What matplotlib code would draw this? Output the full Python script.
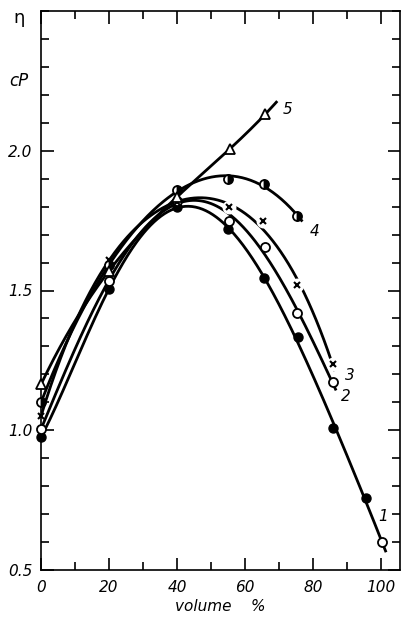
import matplotlib
matplotlib.use('Agg')
import matplotlib.pyplot as plt
import numpy as np
from matplotlib.ticker import MultipleLocator

# measured points (volume %, viscosity cP)
x1 = [0, 20, 40, 55, 65.5, 75.5, 86, 95.6, 100.2]
y1 = [0.975, 1.505, 1.80, 1.72, 1.545, 1.333, 1.007, 0.756, 0.599]
x2 = [0, 20, 40, 55.3, 65.8, 75.3, 85.8]
y2 = [1.004, 1.535, 1.82, 1.75, 1.657, 1.418, 1.171]
x3 = [0, 20, 40, 55.2, 65.3, 75.3, 85.9]
y3 = [1.05, 1.61, 1.815, 1.797, 1.75, 1.518, 1.236]
x4 = [0, 20, 40, 55, 65.6, 75.3]
y4 = [1.10, 1.59, 1.86, 1.90, 1.88, 1.768]
x5 = [0, 20, 40, 55.6, 65.9]
y5 = [1.164, 1.57, 1.835, 2.007, 2.13]

# where each drawn curve stops past its last point
tail_x = [101.5, 86.8, 86.4, 76.9, 69.5]

curve_names = ['1', '2', '3', '4', '5']
label_x = [100.6, 89.8, 90.7, 80.6, 72.6]
label_y = [0.69, 1.12, 1.196, 1.71, 2.146]
fit_deg = [5, 4, 4, 4, 3]

fig = plt.figure(figsize=(4.04, 6.17), dpi=100)
ax = fig.add_axes([41 / 404, 47 / 617, 359 / 404, 559 / 617])

lw = 2.0
series = [(x1, y1), (x2, y2), (x3, y3), (x4, y4), (x5, y5)]
for i, (xs, ys) in enumerate(series):
    coef = np.polyfit(xs, ys, fit_deg[i])
    xx = np.linspace(0, tail_x[i], 300)
    ax.plot(xx, np.polyval(coef, xx), color='black', lw=lw, solid_capstyle='butt')

ms = 6.5
kw = dict(linestyle='none', clip_on=False, zorder=5)
ax.plot(x1[:-1], y1[:-1], marker='o', ms=ms, mfc='black', mec='black', **kw)
ax.plot(x1[-1:], y1[-1:], marker='o', ms=ms, mfc='white', mec='black', mew=1.3, **kw)
ax.plot(x2, y2, marker='o', ms=ms, mfc='white', mec='black', mew=1.3, **kw)
# white gaps around the crosses on the broken curve 3
ax.plot(x3[3:], y3[3:], marker='o', ms=9, mfc='white', mec='white', **kw)
ax.plot(x3, y3, marker='x', ms=5, mec='black', mew=1.5, **kw)
ax.plot(x4, y4, marker='o', ms=ms, fillstyle='right', mfc='black', mfcalt='white',
        mec='black', mew=1.3, **kw)
ax.plot(x5, y5, marker='^', ms=ms, mfc='white', mec='black', mew=1.3, **kw)

for name, lx, ly in zip(curve_names, label_x, label_y):
    ax.text(lx, ly, name, fontsize=11, style='italic', ha='center', va='center')

ax.set_xlim(0, 105.6)
ax.set_ylim(0.5, 2.5)
ax.xaxis.set_major_locator(MultipleLocator(20))
ax.xaxis.set_minor_locator(MultipleLocator(10))
ax.yaxis.set_minor_locator(MultipleLocator(0.1))
ax.set_yticks([0.5, 1.0, 1.5, 2.0])
ax.set_yticklabels(['0.5', '1.0', '1.5', '2.0'])
ax.tick_params(which='both', direction='in', top=True, right=True, width=1.2,
               labelsize=11)
ax.tick_params(which='major', length=9)
ax.tick_params(axis='x', which='major', pad=7)
ax.tick_params(axis='y', which='major', pad=6)
ax.tick_params(which='minor', length=6)
for lab in ax.get_xticklabels() + ax.get_yticklabels():
    lab.set_style('italic')
for s in ax.spines.values():
    s.set_linewidth(1.2)

ax.set_xlabel('volume    %', fontsize=11, style='italic', labelpad=3)
ax.text(-0.045, 0.988, 'η', transform=ax.transAxes, fontsize=13, ha='right', va='center')
ax.text(-0.035, 0.875, 'cP', transform=ax.transAxes, fontsize=12, style='italic',
        ha='right', va='center')

fig.savefig('out.png', dpi=100)
